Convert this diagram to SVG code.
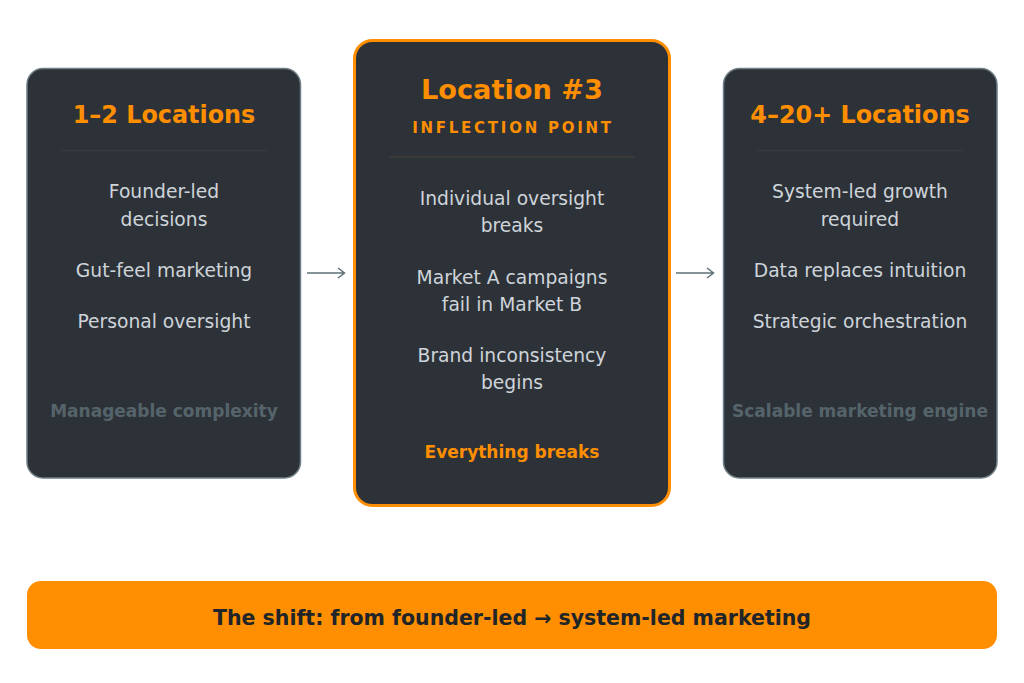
<svg xmlns="http://www.w3.org/2000/svg" width="1024" height="683" viewBox="0 0 1024 683">
<style>
text{font-family:"DejaVu Sans",sans-serif;text-anchor:middle}
.card{fill:#2d3238;stroke:#6e7f87;stroke-width:1.5}
.hot{fill:#2d3238;stroke:#ff8f00;stroke-width:3}
.t{font-size:23.900px;font-weight:700;fill:#ff8f00}
.b{font-size:18.700px;fill:#ced4da}
.m{font-size:17px;font-weight:700;fill:#55646b}
.c{fill:none;stroke:#5f7078;stroke-width:1.500}
</style>
<rect width="1024" height="683" fill="#fff"/>
<g id="connectors">
<path class="c" d="M307 273H344M338 268L344.500 273L338 278"/>
<path class="c" d="M676 273H713M707 268L713.500 273L707 278"/>
</g>
<g id="node-1">
<rect class="card" x="27" y="68.500" width="273.500" height="409.500" rx="16"/>
<text class="t" x="164" y="123">1–2 Locations</text>
<path d="M61 150.500H267" stroke="#363b41"/>
<text class="b" x="164" y="198">Founder-led</text>
<text class="b" x="164" y="225.500">decisions</text>
<text class="b" x="164" y="276.500">Gut-feel marketing</text>
<text class="b" x="164" y="327.500">Personal oversight</text>
<text class="m" x="164" y="417">Manageable complexity</text>
</g>
<g id="node-2">
<rect class="hot" x="354.500" y="40.500" width="315" height="465" rx="18"/>
<text class="t" x="512" y="99" style="font-size:27.200px">Location #3</text>
<text x="513" y="133" style="font-size:15px;font-weight:700;fill:#ff8f00;letter-spacing:2.750px">INFLECTION POINT</text>
<path d="M389 157H635" stroke="#4a4237"/>
<text class="b" x="512" y="205">Individual oversight</text>
<text class="b" x="512" y="232">breaks</text>
<text class="b" x="512" y="283.500">Market A campaigns</text>
<text class="b" x="512" y="310.500">fail in Market B</text>
<text class="b" x="512" y="361.500">Brand inconsistency</text>
<text class="b" x="512" y="389">begins</text>
<text x="512" y="458" style="font-size:17px;font-weight:700;fill:#ff8f00">Everything breaks</text>
</g>
<g id="node-3">
<rect class="card" x="723.500" y="68.500" width="273.500" height="409.500" rx="16"/>
<text class="t" x="860" y="123">4–20+ Locations</text>
<path d="M757 150.500H963" stroke="#363b41"/>
<text class="b" x="860" y="198">System-led growth</text>
<text class="b" x="860" y="225.500">required</text>
<text class="b" x="860" y="276.500">Data replaces intuition</text>
<text class="b" x="860" y="327.500">Strategic orchestration</text>
<text class="m" x="860" y="417">Scalable marketing engine</text>
</g>
<g id="banner">
<rect x="27" y="581" width="970" height="68" rx="14" fill="#ff8f00"/>
<text x="512" y="625" style="font-size:20.500px;font-weight:700;fill:#212529">The shift: from founder-led → system-led marketing</text>
</g>
</svg>
